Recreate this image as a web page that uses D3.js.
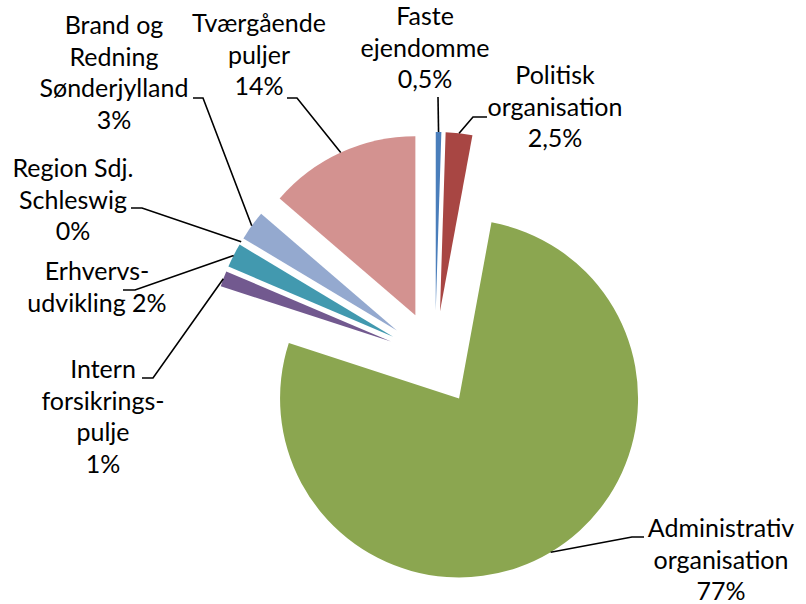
<!DOCTYPE html>
<html lang="da">
<head>
	<meta charset="utf-8"/>
	<title>Budgetfordeling</title>
	<script src="https://cdnjs.cloudflare.com/ajax/libs/d3/7.8.5/d3.min.js"></script>
	<style>
		body { margin: 0; background: #fff; }
		svg text { font-family: Lato, "Open Sans", sans-serif; font-size: 25px; fill: #000; }
	</style>
</head>
<body>
	<div id="chart"></div>

	<script type="text/javascript">
		// data (share of budget, %)
		var categories = ["Faste ejendomme", "Politisk organisation", "Administrativ organisation",
			"Intern forsikringspulje", "Erhvervsudvikling", "Region Sdj. Schleswig",
			"Brand og Redning Sønderjylland", "Tværgående puljer"];
		var values = [0.5, 2.4, 77.1, 1.4, 2.2, 0, 2.7, 13.7];
		var pctLabels = ["0,5%", "2,5%", "77%", "1%", "2%", "0%", "3%", "14%"];
		var colors = ["#4a7ebb", "#a84643", "#8ba650", "#72598f", "#4299af", "#8a8a8a", "#94a9cf", "#d39290"];

		// how each label is broken up in the picture
		var labelText = [
			["Faste", "ejendomme", pctLabels[0]],
			["Politisk", "organisation", pctLabels[1]],
			["Administrativ", "organisation", pctLabels[2]],
			["Intern", "forsikrings-", "pulje", pctLabels[3]],
			["Erhvervs-", "udvikling " + pctLabels[4]],
			["Region Sdj.", "Schleswig", pctLabels[5]],
			["Brand og", "Redning", "Sønderjylland", pctLabels[6]],
			["Tværgående", "puljer", pctLabels[7]]
		];

		// label placement: text centre x, first baseline, leader end + elbow
		var labelPos = [
			{x: 425, y: 25, end: [438, 97], elbow: null},
			{x: 555, y: 84, end: [487, 117], elbow: [473, 117]},
			{x: 721, y: 537, end: [644, 537], elbow: [632, 537]},
			{x: 103, y: 378, end: [142, 378], elbow: [153, 378]},
			{x: 97, y: 280, end: [123, 290], elbow: [135, 290]},
			{x: 73, y: 177, end: [131, 208], elbow: [142, 208]},
			{x: 114, y: 34, end: [193, 98], elbow: [203, 98]},
			{x: 259, y: 32, end: [287, 98], elbow: [297, 98]}
		];

		var width = 806, height = 604;
		var cx = 435, cy = 358, radius = 179, explode = 47, lineStep = 31.7;

		var svg = d3.select("#chart").append("svg")
			.attr("width", width)
			.attr("height", height);

		var g = svg.append("g").attr("transform", "translate(" + cx + "," + cy + ")");

		var pie = d3.pie().sort(null).value(function(d) { return d; });
		var arcs = pie(values);

		var arc = d3.arc().innerRadius(0).outerRadius(radius);

		function dir(d) {
			var a = (d.startAngle + d.endAngle) / 2;
			return [Math.sin(a), -Math.cos(a)];
		}

		//exploded slices
		g.selectAll("path.slice")
			.data(arcs)
			.enter().append("path")
			.attr("class", "slice")
			.attr("d", function(d) { return d.value > 0 ? arc(d) : null; })
			.attr("fill", function(d, i) { return colors[i]; })
			.attr("transform", function(d) {
				var v = dir(d);
				return "translate(" + (v[0] * explode) + "," + (v[1] * explode) + ")";
			});

		//leader lines, from the outer middle of each slice to the label
		var line = d3.line();
		svg.selectAll("path.leader")
			.data(arcs)
			.enter().append("path")
			.attr("class", "leader")
			.attr("fill", "none")
			.attr("stroke", "#000")
			.attr("stroke-width", 1.6)
			.attr("d", function(d, i) {
				var v = dir(d), p = labelPos[i];
				var pts = [[cx + v[0] * (radius + explode), cy + v[1] * (radius + explode)]];
				if (p.elbow) pts.push(p.elbow);
				pts.push(p.end);
				return line(pts);
			});

		//labels
		var labels = svg.selectAll("text.label")
			.data(labelText)
			.enter().append("text")
			.attr("class", "label")
			.attr("text-anchor", "middle");

		labels.selectAll("tspan")
			.data(function(d, i) { return d.map(function(t, k) { return {t: t, i: i, k: k}; }); })
			.enter().append("tspan")
			.attr("x", function(d) { return labelPos[d.i].x; })
			.attr("y", function(d) { return labelPos[d.i].y + d.k * lineStep; })
			.text(function(d) { return d.t; });
	</script>
</body>
</html>
